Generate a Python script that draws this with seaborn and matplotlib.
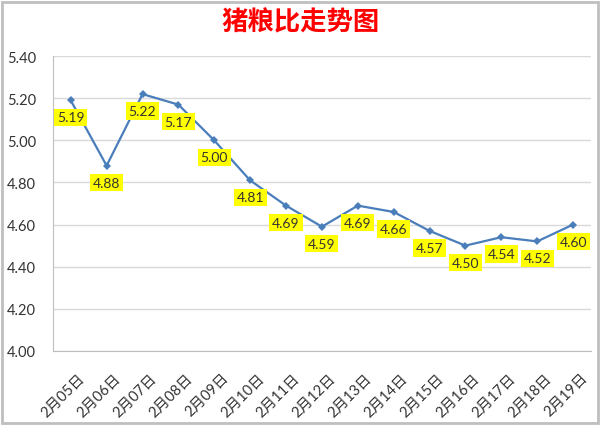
import matplotlib
matplotlib.use("Agg")
import matplotlib.pyplot as plt
import seaborn as sns
from matplotlib.ticker import FixedLocator, NullFormatter
from matplotlib.patches import Rectangle
from matplotlib.transforms import ScaledTranslation

# data
dates = ["2月05日", "2月06日", "2月07日", "2月08日", "2月09日", "2月10日", "2月11日",
         "2月12日", "2月13日", "2月14日", "2月15日", "2月16日", "2月17日", "2月18日", "2月19日"]
ratio = [5.19, 4.88, 5.22, 5.17, 5.00, 4.81, 4.69, 4.59, 4.69, 4.66, 4.57, 4.50, 4.54, 4.52, 4.60]
y_ticks = [4.00, 4.20, 4.40, 4.60, 4.80, 5.00, 5.20, 5.40]

sns.set_style("white")
plt.rcParams['font.family'] = ['Lato', 'Noto Sans CJK SC', 'DejaVu Sans']

fig = plt.figure(figsize=(6, 4.27), dpi=100)
ax = fig.add_axes([0.088, 0.176, 0.897, 0.69])

sns.lineplot(x=dates, y=ratio, ax=ax, sort=False, color="#4a7ebb", linewidth=1.6,
             marker="D", markersize=4, markeredgewidth=0)

for i, v in enumerate(ratio):
    ax.annotate(f"{v:.2f}", (i, v), xytext=(0, -17), textcoords="offset pixels",
                ha="center", va="center", fontsize=10, color="#333333",
                bbox=dict(boxstyle="square,pad=0.2", fc="#ffff00", ec="none"))

ax.set_xlim(-0.5, len(dates) - 0.5)
ax.set_ylim(4.0, 5.4)
ax.set_yticks(y_ticks)
ax.set_yticklabels([f"{t:.2f}" for t in y_ticks], fontsize=10.5, color="#333333")
ax.yaxis.grid(True, color="#d9d9d9", linewidth=1)
ax.tick_params(axis="y", length=0, pad=12)

ax.set_xticks(range(len(dates)))
ax.set_xticklabels(dates, rotation=45, ha="right", va="top", rotation_mode="anchor",
                   fontsize=10.5, color="#333333")
ax.tick_params(axis="x", which="major", length=0, pad=14)
shift = ScaledTranslation(5 / 72, 0, fig.dpi_scale_trans)
for lab in ax.get_xticklabels():
    lab.set_transform(lab.get_transform() + shift)
ax.xaxis.set_minor_locator(FixedLocator([i - 0.5 for i in range(len(dates) + 1)]))
ax.xaxis.set_minor_formatter(NullFormatter())
ax.tick_params(axis="x", which="minor", length=5, color="#bfbfbf", width=1)

for side in ["top", "right"]:
    ax.spines[side].set_visible(False)
for side in ["left", "bottom"]:
    ax.spines[side].set_color("#bfbfbf")
ax.set_xlabel("")
ax.set_ylabel("")

fig.text(0.5, 0.946, "猪粮比走势图", ha="center", va="center", fontsize=19,
         fontweight="bold", color="#ff0000", family=["Noto Sans CJK SC"])

# outer frame
fig.patches.append(Rectangle((0.004, 0.006), 0.992, 0.988, transform=fig.transFigure,
                             fill=False, ec="#bfbfbf", lw=2))

fig.savefig("out.png", dpi=100)
